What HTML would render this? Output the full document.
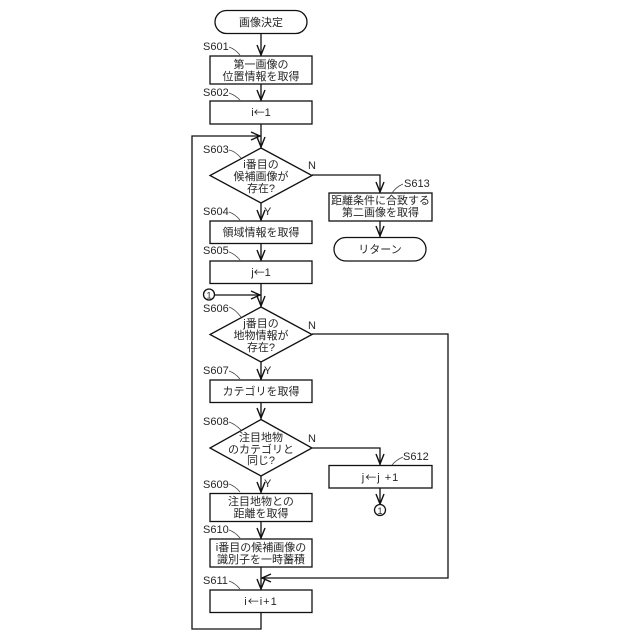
<!DOCTYPE html>
<html>
<head>
<meta charset="utf-8">
<style>
html,body{margin:0;padding:0;background:#fff;width:640px;height:640px;overflow:hidden}
svg{display:block}
text{font-family:"Liberation Sans","Noto Sans CJK JP",sans-serif;fill:#262626}
.t{font-size:11px;text-anchor:middle}
.l{font-size:11px}
.m{letter-spacing:1px}
.r{font-family:"Noto Sans CJK JP",sans-serif}
.b{fill:#fff;stroke:#111;stroke-width:1.3}
.c{fill:none;stroke:#111;stroke-width:1.3}
.a{fill:none;stroke:#111;stroke-width:1.4}
.h{fill:none;stroke:#444;stroke-width:.8}
</style>
</head>
<body>
<svg width="640" height="640" viewBox="0 0 640 640" xmlns="http://www.w3.org/2000/svg">
<!-- connectors -->
<path class="c" d="M261 33V56M261 84V101M261 124V148M261 203V221M261 243V261M261 283V307M261 362V380M261 402V419M261 476V493M261 521V539M261 567V590M261 612V629H192V136H261M312 175H380V193M380 221V237M312 334H448V578H261M312 448H380V465M380 488V505M214 295H261"/>
<!-- arrowheads -->
<path class="a" d="M257 45L261 55L265 45M257 90L261 100L265 90M257 137L261 147L265 137M257 210L261 220L265 210M257 250L261 260L265 250M257 296L261 306L265 296M257 369L261 379L265 369M257 408L261 418L265 408M257 482L261 492L265 482M257 528L261 538L265 528M257 579L261 589L265 579M376 182L380 192L384 182M376 226L380 236L384 226M376 454L380 464L384 454M376 494L380 504L384 494M251 132L260 136L251 140M251 291L260 295L251 299M271 574L262 578L271 582"/>
<!-- nodes -->
<rect class="b" x="215" y="10.500" width="92" height="23" rx="11.500"/>
<rect class="b" x="210" y="56" width="102" height="28"/>
<rect class="b" x="210" y="101" width="102" height="23"/>
<polygon class="b" points="261,148 312,175.500 261,203 210,175.500"/>
<rect class="b" x="329" y="193" width="103" height="28"/>
<rect class="b" x="334" y="237.500" width="92" height="23.500" rx="11.700"/>
<rect class="b" x="210" y="221" width="102" height="22.500"/>
<rect class="b" x="210" y="261" width="102" height="22.500"/>
<circle class="b" cx="209" cy="294.500" r="5.500"/>
<polygon class="b" points="261,307 312,334.500 261,362 210,334.500"/>
<rect class="b" x="210" y="380" width="102" height="22.500"/>
<polygon class="b" points="261,419.500 312,448 261,476 210,448"/>
<rect class="b" x="329" y="465.500" width="103" height="22.500"/>
<circle class="b" cx="380" cy="510" r="5.500"/>
<rect class="b" x="210" y="493.500" width="102" height="28"/>
<rect class="b" x="210" y="539" width="102" height="28"/>
<rect class="b" x="210" y="590" width="102" height="22.500"/>
<!-- step leaders -->
<path class="h" d="M229 47Q235 49 240 55M229 93Q235 95 240 100M229 150Q235 151 241 158M229 212Q235 214 240 220M229 252Q235 254 240 260M229 307Q235 309 241 317M229 371Q235 373 240 379M229 422Q235 424 241 430M229 484Q235 486 240 492M229 530Q235 532 240 538M229 581Q235 583 240 589M392 193Q396 187 403 184M392 465Q396 460 403 457"/>
<!-- text -->
<text class="t" x="261" y="26">画像決定</text>
<text class="l" x="203" y="50">S601</text>
<text class="t" x="261" y="68">第一画像の</text>
<text class="t" x="261" y="80">位置情報を取得</text>
<text class="l" x="203" y="96">S602</text>
<text class="t" x="261" y="116">i<tspan class="r">←</tspan>1</text>
<text class="l" x="203" y="153">S603</text>
<text class="t" x="261" y="168">i番目の</text>
<text class="t" x="261" y="180">候補画像が</text>
<text class="t" x="261" y="192">存在?</text>
<text class="l" x="308" y="169">N</text>
<text class="l" x="264" y="215">Y</text>
<text class="l" x="404" y="187">S613</text>
<text class="t" x="380.500" y="204">距離条件に合致する</text>
<text class="t" x="380.500" y="216">第二画像を取得</text>
<text class="t" x="380" y="253">リターン</text>
<text class="l" x="203" y="215">S604</text>
<text class="t" x="261" y="236">領域情報を取得</text>
<text class="l" x="203" y="254">S605</text>
<text class="t" x="261" y="276">j<tspan class="r">←</tspan>1</text>
<text class="t" x="209" y="298.500" style="font-size:9px">1</text>
<text class="l" x="203" y="312">S606</text>
<text class="t" x="261" y="327">j番目の</text>
<text class="t" x="261" y="339">地物情報が</text>
<text class="t" x="261" y="351">存在?</text>
<text class="l" x="308" y="329">N</text>
<text class="l" x="264" y="374">Y</text>
<text class="l" x="203" y="374">S607</text>
<text class="t" x="261" y="395">カテゴリを取得</text>
<text class="l" x="203" y="425">S608</text>
<text class="t" x="261" y="441">注目地物</text>
<text class="t" x="261" y="453">のカテゴリと</text>
<text class="t" x="261" y="464">同じ?</text>
<text class="l" x="308" y="442">N</text>
<text class="l" x="264" y="487">Y</text>
<text class="l" x="403" y="460">S612</text>
<text class="t m" x="380.500" y="481">j<tspan class="r">←</tspan>j +1</text>
<text class="t" x="380" y="514" style="font-size:9px">1</text>
<text class="l" x="203" y="488">S609</text>
<text class="t" x="261" y="505">注目地物との</text>
<text class="t" x="261" y="517">距離を取得</text>
<text class="l" x="203" y="533">S610</text>
<text class="t" x="261" y="551">i番目の候補画像の</text>
<text class="t" x="261" y="563">識別子を一時蓄積</text>
<text class="l" x="203" y="584">S611</text>
<text class="t m" x="261" y="605">i<tspan class="r">←</tspan>i+1</text>
</svg>
</body>
</html>
